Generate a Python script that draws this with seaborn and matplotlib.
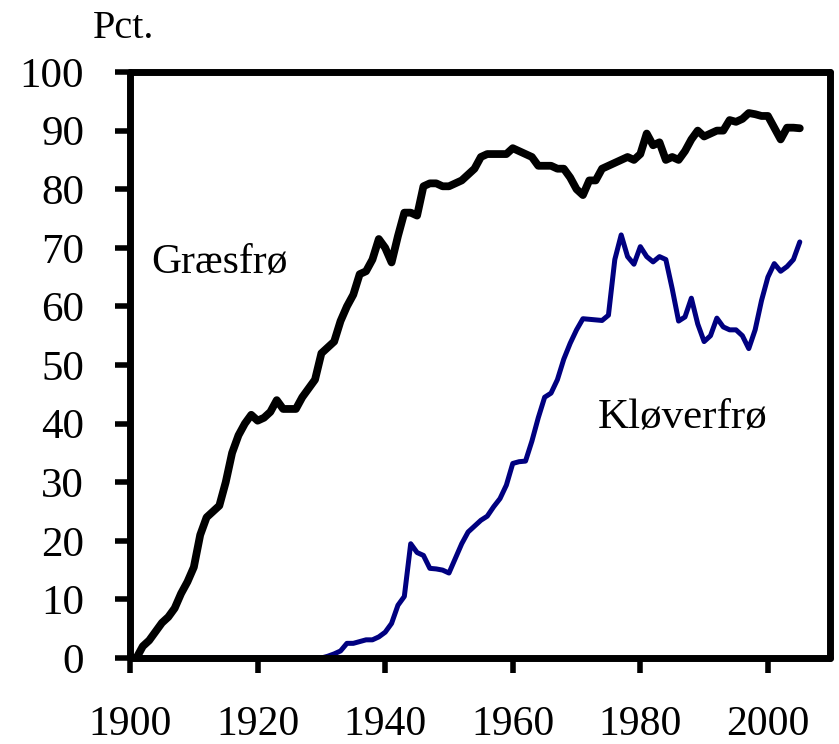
import matplotlib
matplotlib.use("Agg")
import matplotlib.pyplot as plt
import seaborn as sns
import numpy as np
import pandas as pd

# share of seed area (pct.) by year
years = list(range(1900, 2006))

graesfro = [
    0, 0, 2, 3, 4.5, 6, 7, 8.5, 11, 13,            # 1900-1909
    15.5, 21, 24, 25, 26, 30, 35, 38, 40, 41.5,    # 1910-1919
    40.5, 41, 42, 44, 42.5, 42.5, 42.5, 44.5, 46, 47.5,  # 1920-1929
    52, 53, 54, 57.5, 60, 62, 65.5, 66, 68, 71.5,  # 1930-1939
    70, 67.5, 72, 76, 76, 75.5, 80.5, 81, 81, 80.5,  # 1940-1949
    80.5, 81, 81.5, 82.5, 83.5, 85.5, 86, 86, 86, 86,  # 1950-1959
    87, 86.5, 86, 85.5, 84, 84, 84, 83.5, 83.5, 82,  # 1960-1969
    80, 79, 81.5, 81.5, 83.5, 84, 84.5, 85, 85.5, 85,  # 1970-1979
    86, 89.5, 87.5, 88, 85, 85.5, 85, 86.5, 88.5, 90,  # 1980-1989
    89, 89.5, 90, 90, 91.8, 91.5, 92, 93, 92.8, 92.5,  # 1990-1999
    92.5, 90.5, 88.5, 90.5, 90.5, 90.4,            # 2000-2005
]

kloverfro = [
    0, 0, 0, 0, 0, 0, 0, 0, 0, 0,                  # 1900-1909
    0, 0, 0, 0, 0, 0, 0, 0, 0, 0,                  # 1910-1919
    0, 0, 0, 0, 0, 0, 0, 0, 0, 0,                  # 1920-1929
    0, 0.3, 0.7, 1.2, 2.5, 2.5, 2.8, 3.1, 3.1, 3.6,  # 1930-1939
    4.4, 5.9, 9, 10.5, 19.5, 18, 17.5, 15.3, 15.2, 15,  # 1940-1949
    14.5, 17, 19.5, 21.5, 22.5, 23.5, 24.2, 25.8, 27.2, 29.5,  # 1950-1959
    33.2, 33.5, 33.6, 37, 41, 44.5, 45.2, 47.5, 51, 53.7,  # 1960-1969
    56, 57.9, 57.8, 57.7, 57.6, 58.5, 68, 72.2, 68.5, 67.2,  # 1970-1979
    70.2, 68.5, 67.6, 68.5, 68, 63, 57.5, 58.2, 61.4, 57,  # 1980-1989
    54, 55, 58, 56.5, 56, 56, 55, 52.8, 56, 61,    # 1990-1999
    65, 67.3, 66, 66.8, 68, 71,                    # 2000-2005
]

y_ticks = [0, 10, 20, 30, 40, 50, 60, 70, 80, 90, 100]
x_ticks = [1900, 1920, 1940, 1960, 1980, 2000]

df = pd.DataFrame({"year": years, "Græsfrø": graesfro, "Kløverfrø": kloverfro})

sns.set_style("white")
plt.rcParams["font.family"] = ["Liberation Serif", "DejaVu Serif"]
plt.rcParams["text.color"] = "black"

fig = plt.figure(figsize=(8.39, 7.44), dpi=100)
ax = fig.add_axes([0.155, 0.1156, 0.834, 0.7876])

sns.lineplot(data=df, x="year", y="Kløverfrø", ax=ax, color="#000080",
             linewidth=3.6, solid_joinstyle="round", solid_capstyle="round")
sns.lineplot(data=df, x="year", y="Græsfrø", ax=ax, color="black",
             linewidth=5.6, solid_joinstyle="round", solid_capstyle="round")

ax.set_xlim(1900, 2009.7)
ax.set_ylim(0, 100)
ax.set_xticks(x_ticks)
ax.set_yticks(y_ticks)
ax.set_xlabel("")
ax.set_ylabel("")

for s in ax.spines.values():
    s.set_linewidth(5)
    s.set_color("black")
    s.set_capstyle("round")

ax.tick_params(axis="both", which="major", direction="out", length=11,
               width=4, color="black", labelcolor="black")
ax.tick_params(axis="y", pad=22, left=True, labelsize=31)
ax.tick_params(axis="x", pad=23, bottom=True, labelsize=30)

ax.text(1903.4, 67.6, "Græsfrø", fontsize=30, va="center", ha="left", color="black")
ax.text(1973.3, 41, "Kløverfrø", fontsize=31, va="center", ha="left", color="black")
ax.text(-0.053, 1.075, "Pct.", fontsize=29, va="center", ha="left",
        color="black", transform=ax.transAxes)

fig.savefig("out.png", dpi=100)
